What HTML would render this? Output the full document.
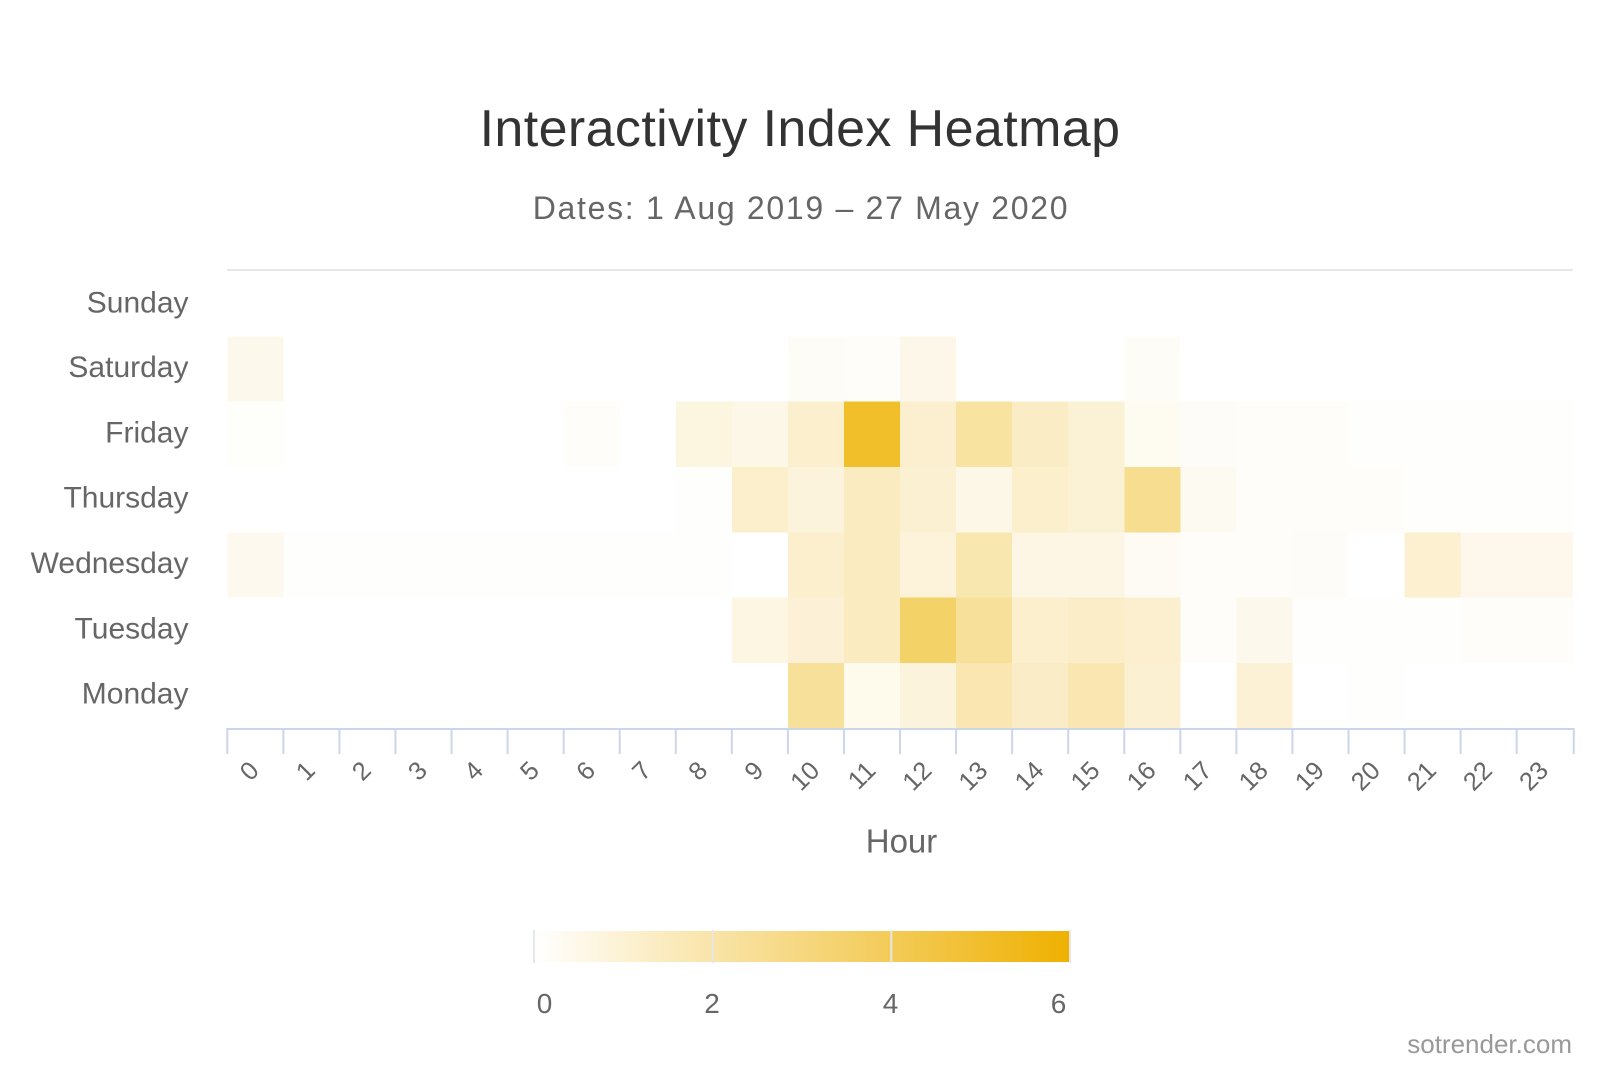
<!DOCTYPE html>
<html>
<head>
<meta charset="utf-8">
<style>
html,body{margin:0;padding:0;background:#fff;}
svg{display:block;}
text{font-family:"Liberation Sans",Arial,sans-serif;}
</style>
</head>
<body>
<svg width="1600" height="1067" viewBox="0 0 1600 1067" xmlns="http://www.w3.org/2000/svg">
<defs>
<linearGradient id="lg" x1="0" y1="0" x2="1" y2="0">
<stop offset="0" stop-color="#ffffff"/>
<stop offset="0.333" stop-color="#f9e4a8"/>
<stop offset="0.667" stop-color="#f3cb58"/>
<stop offset="1" stop-color="#efb000"/>
</linearGradient>
</defs>
<rect width="1600" height="1067" fill="#fff"/>

<!-- Title -->
<text x="800" y="146" text-anchor="middle" font-size="52" letter-spacing="0.4" fill="#333333">Interactivity Index Heatmap</text>
<text x="801" y="219" text-anchor="middle" font-size="32" letter-spacing="1.7" fill="#666666">Dates: 1 Aug 2019 – 27 May 2020</text>

<!-- top gridline -->
<rect x="227.3" y="269" width="1345.5" height="2" fill="#e6e6e6"/>

<g shape-rendering="crispEdges">
<!-- Saturday -->
<rect x="227.3" y="336.33" width="56.1" height="65.4" fill="#fdf8ec"/>
<rect x="787.9" y="336.33" width="56.1" height="65.4" fill="#fefcf7"/>
<rect x="843.96" y="336.33" width="56.1" height="65.4" fill="#fffdf9"/>
<rect x="900.02" y="336.33" width="56.1" height="65.4" fill="#fdf7ea"/>
<rect x="1124.26" y="336.33" width="56.1" height="65.4" fill="#fefcf6"/>

<!-- Friday -->
<rect x="227.3" y="401.67" width="56.1" height="65.4" fill="#fefefb"/>
<rect x="563.66" y="401.67" width="56.1" height="65.4" fill="#fefdf9"/>
<rect x="675.78" y="401.67" width="56.1" height="65.4" fill="#fcf5e0"/>
<rect x="731.84" y="401.67" width="56.1" height="65.4" fill="#fdf7e7"/>
<rect x="787.9" y="401.67" width="56.1" height="65.4" fill="#fcefcd"/>
<rect x="843.96" y="401.67" width="56.1" height="65.4" fill="#f1bf29"/>
<rect x="900.02" y="401.67" width="56.1" height="65.4" fill="#fcefcf"/>
<rect x="956.08" y="401.67" width="56.1" height="65.4" fill="#f8e3a1"/>
<rect x="1012.14" y="401.67" width="56.1" height="65.4" fill="#faedc5"/>
<rect x="1068.2" y="401.67" width="56.1" height="65.4" fill="#fbf2d6"/>
<rect x="1124.26" y="401.67" width="56.1" height="65.4" fill="#fefbf1"/>
<rect x="1180.32" y="401.67" width="56.1" height="65.4" fill="#fefcf8"/>
<rect x="1236.38" y="401.67" width="56.1" height="65.4" fill="#fefdf9"/>
<rect x="1292.44" y="401.67" width="56.1" height="65.4" fill="#fefdf9"/>
<rect x="1348.5" y="401.67" width="224.3" height="65.4" fill="#fefefc"/>

<!-- Thursday -->
<rect x="675.78" y="467" width="56.1" height="65.4" fill="#fefefc"/>
<rect x="731.84" y="467" width="56.1" height="65.4" fill="#fcefcc"/>
<rect x="787.9" y="467" width="56.1" height="65.4" fill="#fcf3dc"/>
<rect x="843.96" y="467" width="56.1" height="65.4" fill="#faebc1"/>
<rect x="900.02" y="467" width="56.1" height="65.4" fill="#fbf0d2"/>
<rect x="956.08" y="467" width="56.1" height="65.4" fill="#fdf7e8"/>
<rect x="1012.14" y="467" width="56.1" height="65.4" fill="#fcefcc"/>
<rect x="1068.2" y="467" width="56.1" height="65.4" fill="#fbf2d6"/>
<rect x="1124.26" y="467" width="56.1" height="65.4" fill="#f7dd90"/>
<rect x="1180.32" y="467" width="56.1" height="65.4" fill="#fdfaf2"/>
<rect x="1236.38" y="467" width="168.2" height="65.4" fill="#fefdfa"/>
<rect x="1404.56" y="467" width="168.2" height="65.4" fill="#fefefc"/>

<!-- Wednesday -->
<rect x="227.3" y="532.33" width="56.1" height="65.4" fill="#fdf9ef"/>
<rect x="283.36" y="532.33" width="448.5" height="65.4" fill="#fefefc"/>
<rect x="787.9" y="532.33" width="56.1" height="65.4" fill="#fcefcd"/>
<rect x="843.96" y="532.33" width="56.1" height="65.4" fill="#faebc1"/>
<rect x="900.02" y="532.33" width="56.1" height="65.4" fill="#fcf3da"/>
<rect x="956.08" y="532.33" width="56.1" height="65.4" fill="#f9e7b0"/>
<rect x="1012.14" y="532.33" width="56.1" height="65.4" fill="#fdf6e4"/>
<rect x="1068.2" y="532.33" width="56.1" height="65.4" fill="#fdf6e4"/>
<rect x="1124.26" y="532.33" width="56.1" height="65.4" fill="#fdfbf3"/>
<rect x="1180.32" y="532.33" width="112.2" height="65.4" fill="#fefdfa"/>
<rect x="1292.44" y="532.33" width="56.1" height="65.4" fill="#fdfcf8"/>
<rect x="1404.56" y="532.33" width="56.1" height="65.4" fill="#fcf0d1"/>
<rect x="1460.62" y="532.33" width="112.2" height="65.4" fill="#fdf8eb"/>

<!-- Tuesday -->
<rect x="731.84" y="597.67" width="56.1" height="65.4" fill="#fdf6e3"/>
<rect x="787.9" y="597.67" width="56.1" height="65.4" fill="#fcf1d6"/>
<rect x="843.96" y="597.67" width="56.1" height="65.4" fill="#faebc1"/>
<rect x="900.02" y="597.67" width="56.1" height="65.4" fill="#f3d268"/>
<rect x="956.08" y="597.67" width="56.1" height="65.4" fill="#f7e099"/>
<rect x="1012.14" y="597.67" width="56.1" height="65.4" fill="#fbefcd"/>
<rect x="1068.2" y="597.67" width="56.1" height="65.4" fill="#faedc7"/>
<rect x="1124.26" y="597.67" width="56.1" height="65.4" fill="#fbefcf"/>
<rect x="1180.32" y="597.67" width="56.1" height="65.4" fill="#fefdfa"/>
<rect x="1236.38" y="597.67" width="56.1" height="65.4" fill="#fdf8ec"/>
<rect x="1292.44" y="597.67" width="168.2" height="65.4" fill="#fefefc"/>
<rect x="1460.62" y="597.67" width="112.2" height="65.4" fill="#fefdfa"/>

<!-- Monday -->
<rect x="787.9" y="663" width="56.1" height="65.4" fill="#f7e09a"/>
<rect x="843.96" y="663" width="56.1" height="65.4" fill="#fefaec"/>
<rect x="900.02" y="663" width="56.1" height="65.4" fill="#fcf3dc"/>
<rect x="956.08" y="663" width="56.1" height="65.4" fill="#f9e6b0"/>
<rect x="1012.14" y="663" width="56.1" height="65.4" fill="#faecc6"/>
<rect x="1068.2" y="663" width="56.1" height="65.4" fill="#f9e6b0"/>
<rect x="1124.26" y="663" width="56.1" height="65.4" fill="#fbf0d2"/>
<rect x="1236.38" y="663" width="56.1" height="65.4" fill="#fcf1d5"/>
<rect x="1348.5" y="663" width="56.1" height="65.4" fill="#fefefd"/>
</g>

<!-- x axis line and ticks -->
<g fill="#ccd6eb">
<rect x="226.3" y="728" width="1347.5" height="2"/>
<rect x="226.3" y="728" width="2" height="26"/>
<rect x="282.36" y="728" width="2" height="26"/>
<rect x="338.42" y="728" width="2" height="26"/>
<rect x="394.48" y="728" width="2" height="26"/>
<rect x="450.54" y="728" width="2" height="26"/>
<rect x="506.6" y="728" width="2" height="26"/>
<rect x="562.66" y="728" width="2" height="26"/>
<rect x="618.72" y="728" width="2" height="26"/>
<rect x="674.78" y="728" width="2" height="26"/>
<rect x="730.84" y="728" width="2" height="26"/>
<rect x="786.9" y="728" width="2" height="26"/>
<rect x="842.96" y="728" width="2" height="26"/>
<rect x="899.02" y="728" width="2" height="26"/>
<rect x="955.08" y="728" width="2" height="26"/>
<rect x="1011.14" y="728" width="2" height="26"/>
<rect x="1067.2" y="728" width="2" height="26"/>
<rect x="1123.26" y="728" width="2" height="26"/>
<rect x="1179.32" y="728" width="2" height="26"/>
<rect x="1235.38" y="728" width="2" height="26"/>
<rect x="1291.44" y="728" width="2" height="26"/>
<rect x="1347.5" y="728" width="2" height="26"/>
<rect x="1403.56" y="728" width="2" height="26"/>
<rect x="1459.62" y="728" width="2" height="26"/>
<rect x="1515.68" y="728" width="2" height="26"/>
<rect x="1572.74" y="728" width="2" height="26"/>
</g>

<!-- x tick labels -->
<g font-size="25.5" fill="#666666" text-anchor="end">
<text transform="translate(260.4,772) rotate(-45)">0</text>
<text transform="translate(316.5,772) rotate(-45)">1</text>
<text transform="translate(372.5,772) rotate(-45)">2</text>
<text transform="translate(428.6,772) rotate(-45)">3</text>
<text transform="translate(484.7,772) rotate(-45)">4</text>
<text transform="translate(540.7,772) rotate(-45)">5</text>
<text transform="translate(596.8,772) rotate(-45)">6</text>
<text transform="translate(652.8,772) rotate(-45)">7</text>
<text transform="translate(708.9,772) rotate(-45)">8</text>
<text transform="translate(765.0,772) rotate(-45)">9</text>
<text transform="translate(821.0,772) rotate(-45)">10</text>
<text transform="translate(877.1,772) rotate(-45)">11</text>
<text transform="translate(933.1,772) rotate(-45)">12</text>
<text transform="translate(989.2,772) rotate(-45)">13</text>
<text transform="translate(1045.3,772) rotate(-45)">14</text>
<text transform="translate(1101.3,772) rotate(-45)">15</text>
<text transform="translate(1157.4,772) rotate(-45)">16</text>
<text transform="translate(1213.4,772) rotate(-45)">17</text>
<text transform="translate(1269.5,772) rotate(-45)">18</text>
<text transform="translate(1325.6,772) rotate(-45)">19</text>
<text transform="translate(1381.6,772) rotate(-45)">20</text>
<text transform="translate(1437.7,772) rotate(-45)">21</text>
<text transform="translate(1493.7,772) rotate(-45)">22</text>
<text transform="translate(1549.8,772) rotate(-45)">23</text>
</g>

<!-- x axis title -->
<text x="901.5" y="852.7" text-anchor="middle" font-size="33" fill="#666666">Hour</text>

<!-- y labels -->
<g font-size="30" fill="#666666" text-anchor="end">
<text x="188.5" y="312.7">Sunday</text>
<text x="188.5" y="377">Saturday</text>
<text x="188.5" y="442.3">Friday</text>
<text x="188.5" y="507.7">Thursday</text>
<text x="188.5" y="573">Wednesday</text>
<text x="188.5" y="638.3">Tuesday</text>
<text x="188.5" y="703.7">Monday</text>
</g>

<!-- legend -->
<rect x="534" y="931" width="536" height="31" fill="url(#lg)"/>
<rect x="533" y="930" width="2" height="33" fill="#e6e6e6"/>
<rect x="1069" y="930" width="2" height="33" fill="#e6e6e6"/>
<rect x="711.7" y="930" width="2" height="33" fill="#e6e6e6"/>
<rect x="890.3" y="930" width="2" height="33" fill="#e6e6e6"/>
<g font-size="28" fill="#666666" text-anchor="middle">
<text x="544.5" y="1013">0</text>
<text x="712" y="1013">2</text>
<text x="890.5" y="1013">4</text>
<text x="1058.5" y="1013">6</text>
</g>

<!-- credits -->
<text x="1572" y="1053" text-anchor="end" font-size="26" fill="#999999">sotrender.com</text>
</svg>
</body>
</html>
